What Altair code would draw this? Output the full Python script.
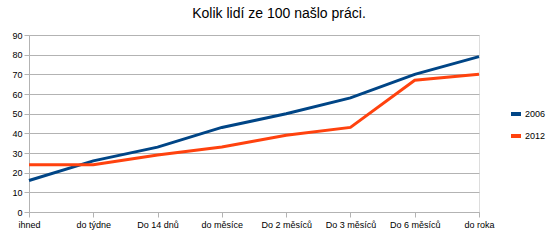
import altair as alt
import pandas as pd

categories = ["ihned", "do týdne", "Do 14 dnů", "do měsíce", "Do 2 měsíců", "Do 3 měsíců", "Do 6 měsíců", "do roka"]
s2006 = [16, 26, 33, 43, 50, 58, 70, 79]
s2012 = [24, 24, 29, 33, 39, 43, 67, 70]
series = ["2006", "2012"]
colors = ["#004586", "#ff420e"]

rows = []
for i, c in enumerate(categories):
    rows.append({"cat": c, "series": "2006", "value": s2006[i], "order": i})
    rows.append({"cat": c, "series": "2012", "value": s2012[i], "order": i})
df = pd.DataFrame(rows)

font = "Liberation Sans"

chart = alt.Chart(df).mark_line(strokeWidth=3).encode(
    x=alt.X("cat:N", sort=categories, title=None,
            scale=alt.Scale(type="point", padding=0),
            axis=alt.Axis(labelAngle=0, tickSize=5, tickColor="#b3b3b3", domainColor="#b3b3b3",
                          labelFontSize=9, labelColor="#000000", labelFont=font, labelPadding=3,
                          grid=False)),
    y=alt.Y("value:Q", title=None,
            scale=alt.Scale(domain=[0, 90], nice=False),
            axis=alt.Axis(values=list(range(0, 91, 10)), tickSize=5, tickColor="#b3b3b3",
                          domainColor="#b3b3b3", gridColor="#b3b3b3", labelFontSize=9,
                          labelColor="#000000", labelFont=font, labelPadding=2)),
    color=alt.Color("series:N", scale=alt.Scale(domain=series, range=colors), title=None,
                    legend=alt.Legend(orient="none", legendX=480, legendY=72, symbolType="stroke",
                                      symbolStrokeWidth=4, symbolSize=100, labelFontSize=9,
                                      labelFont=font, labelColor="#000000", rowPadding=6,
                                      symbolOffset=0, labelOffset=2)),
    order="order:Q",
).properties(
    width=450, height=177,
    title=alt.TitleParams("Kolik lidí ze 100 našlo práci.", fontSize=14, font=font,
                          fontWeight="normal", color="#000000", anchor="middle", dx=25,
                          offset=10),
    autosize=alt.AutoSizeParams(type="none"),
    padding={"left": 29, "top": 35, "right": 79, "bottom": 33},
).configure_view(stroke="#b3b3b3").configure(background="white")

chart.save("out.html", embed_options={"renderer": "svg", "actions": False})
